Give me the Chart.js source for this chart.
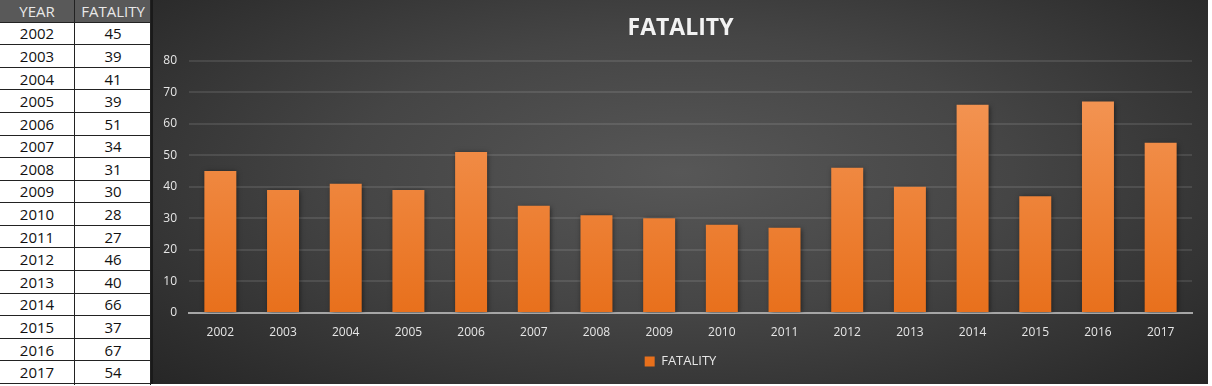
<!DOCTYPE html>
<html><head><meta charset="utf-8">
<script src="https://cdn.jsdelivr.net/npm/chart.js@4"></script>
<style>
html,body{margin:0;padding:0;background:#fff;width:1212px;height:386px;overflow:hidden;font-family:"Open Sans",sans-serif;}
#tbl{position:absolute;left:0;top:0;width:151px;height:385px;background:#fff;}
.cell{position:absolute;box-sizing:border-box;display:flex;align-items:center;justify-content:center;font-size:15px;color:#111;border-bottom:1px solid #222;}
.hdr{background:#595959;color:#e8e8e8;border-bottom:1px solid #222;}
#vline{position:absolute;left:74px;top:0;width:1px;height:385px;background:#222;}
#chartBox{position:absolute;left:151px;top:0;width:1057px;height:384px;
background:radial-gradient(ellipse 70% 80% at 50% 45%, #575757 0%, #454545 45%, #2e2e2e 85%, #262626 100%);
border-left:2px solid #1a1a1a;box-sizing:border-box;}
canvas{display:block;}
</style></head>
<body>
<div id="tbl"></div>
<div id="chartBox"><canvas id="c" width="1055" height="384"></canvas></div>
<script>
const years = ["2002","2003","2004","2005","2006","2007","2008","2009","2010","2011","2012","2013","2014","2015","2016","2017"];
const fatality = [45,39,41,39,51,34,31,30,28,27,46,40,66,37,67,54];
const tableHeaders = ["YEAR","FATALITY"];
const chartTitle = "FATALITY";

// table
const tbl = document.getElementById('tbl');
const rowH = 384/17;
function addCell(text, col, row, cls){
  const d = document.createElement('div');
  d.className = 'cell' + (cls ? ' ' + cls : '');
  d.style.left = (col === 0 ? 0 : 75) + 'px';
  d.style.width = (col === 0 ? 74 : 76) + 'px';
  d.style.top = (row*rowH) + 'px';
  d.style.height = rowH + 'px';
  d.textContent = text;
  tbl.appendChild(d);
}
addCell(tableHeaders[0],0,0,'hdr'); addCell(tableHeaders[1],1,0,'hdr');
years.forEach((y,i)=>{ addCell(y,0,i+1); addCell(String(fatality[i]),1,i+1); });
const vl = document.createElement('div'); vl.id='vline'; tbl.appendChild(vl);
const rb = document.createElement('div'); rb.style.cssText='position:absolute;left:150px;top:0;width:1px;height:385px;background:#222;'; tbl.appendChild(rb);

const shadowPlugin = {
  id:'shadow',
  afterLayout(chart){ const y = chart.scales.y; y.left = 0; y.width = y.right; },
  beforeDatasetsDraw(chart){ const c=chart.ctx; c.save(); c.shadowColor='rgba(0,0,0,0.55)'; c.shadowBlur=5; c.shadowOffsetX=1; c.shadowOffsetY=1; },
  afterDatasetsDraw(chart){ chart.ctx.restore(); }
};

function barGrad(ctx){
  const chart = ctx.chart; const a = chart.chartArea;
  if(!a) return '#ed7d31';
  const g = chart.ctx.createLinearGradient(0,a.top,0,a.bottom);
  g.addColorStop(0,'#f59a5c'); g.addColorStop(1,'#e8701c');
  return g;
}

new Chart(document.getElementById('c'), {
  type:'bar',
  data:{ labels: years, datasets:[{ label: chartTitle, data: fatality, backgroundColor: barGrad, borderWidth:0, barPercentage:0.51, categoryPercentage:1.0 }]},
  plugins:[shadowPlugin],
  options:{
    responsive:false, animation:false,
    layout:{ padding:{ left:16, right:16, top:0, bottom:6 } },
    plugins:{
      title:{ display:true, text: chartTitle, color:'#f2f2f2', font:{ family:'"Open Sans"', size:23, weight:'bold' }, padding:{ top:15, bottom:18 } },
      legend:{ position:'bottom', labels:{ color:'#e6e6e6', font:{ family:'"Open Sans"', size:13 }, boxWidth:10, boxHeight:10, padding:10 } },
      tooltip:{ enabled:false }
    },
    scales:{
      x:{ grid:{ display:false, drawTicks:false }, border:{ color:'#a6a6a6', width:2 },
          ticks:{ color:'#e6e6e6', font:{ family:'"Open Sans"', size:12 }, padding:12 },
          afterFit(s){ s.height = 32; } },
      y:{ min:0, max:80, grid:{ color:'rgba(255,255,255,0.10)', lineWidth:2, drawTicks:false }, border:{ display:false },
          ticks:{ stepSize:10, color:'#e6e6e6', font:{ family:'"Open Sans"', size:12 }, padding:12 },
          afterFit(s){ s.width = 20; } }
    }
  }
});
</script>
</body></html>
